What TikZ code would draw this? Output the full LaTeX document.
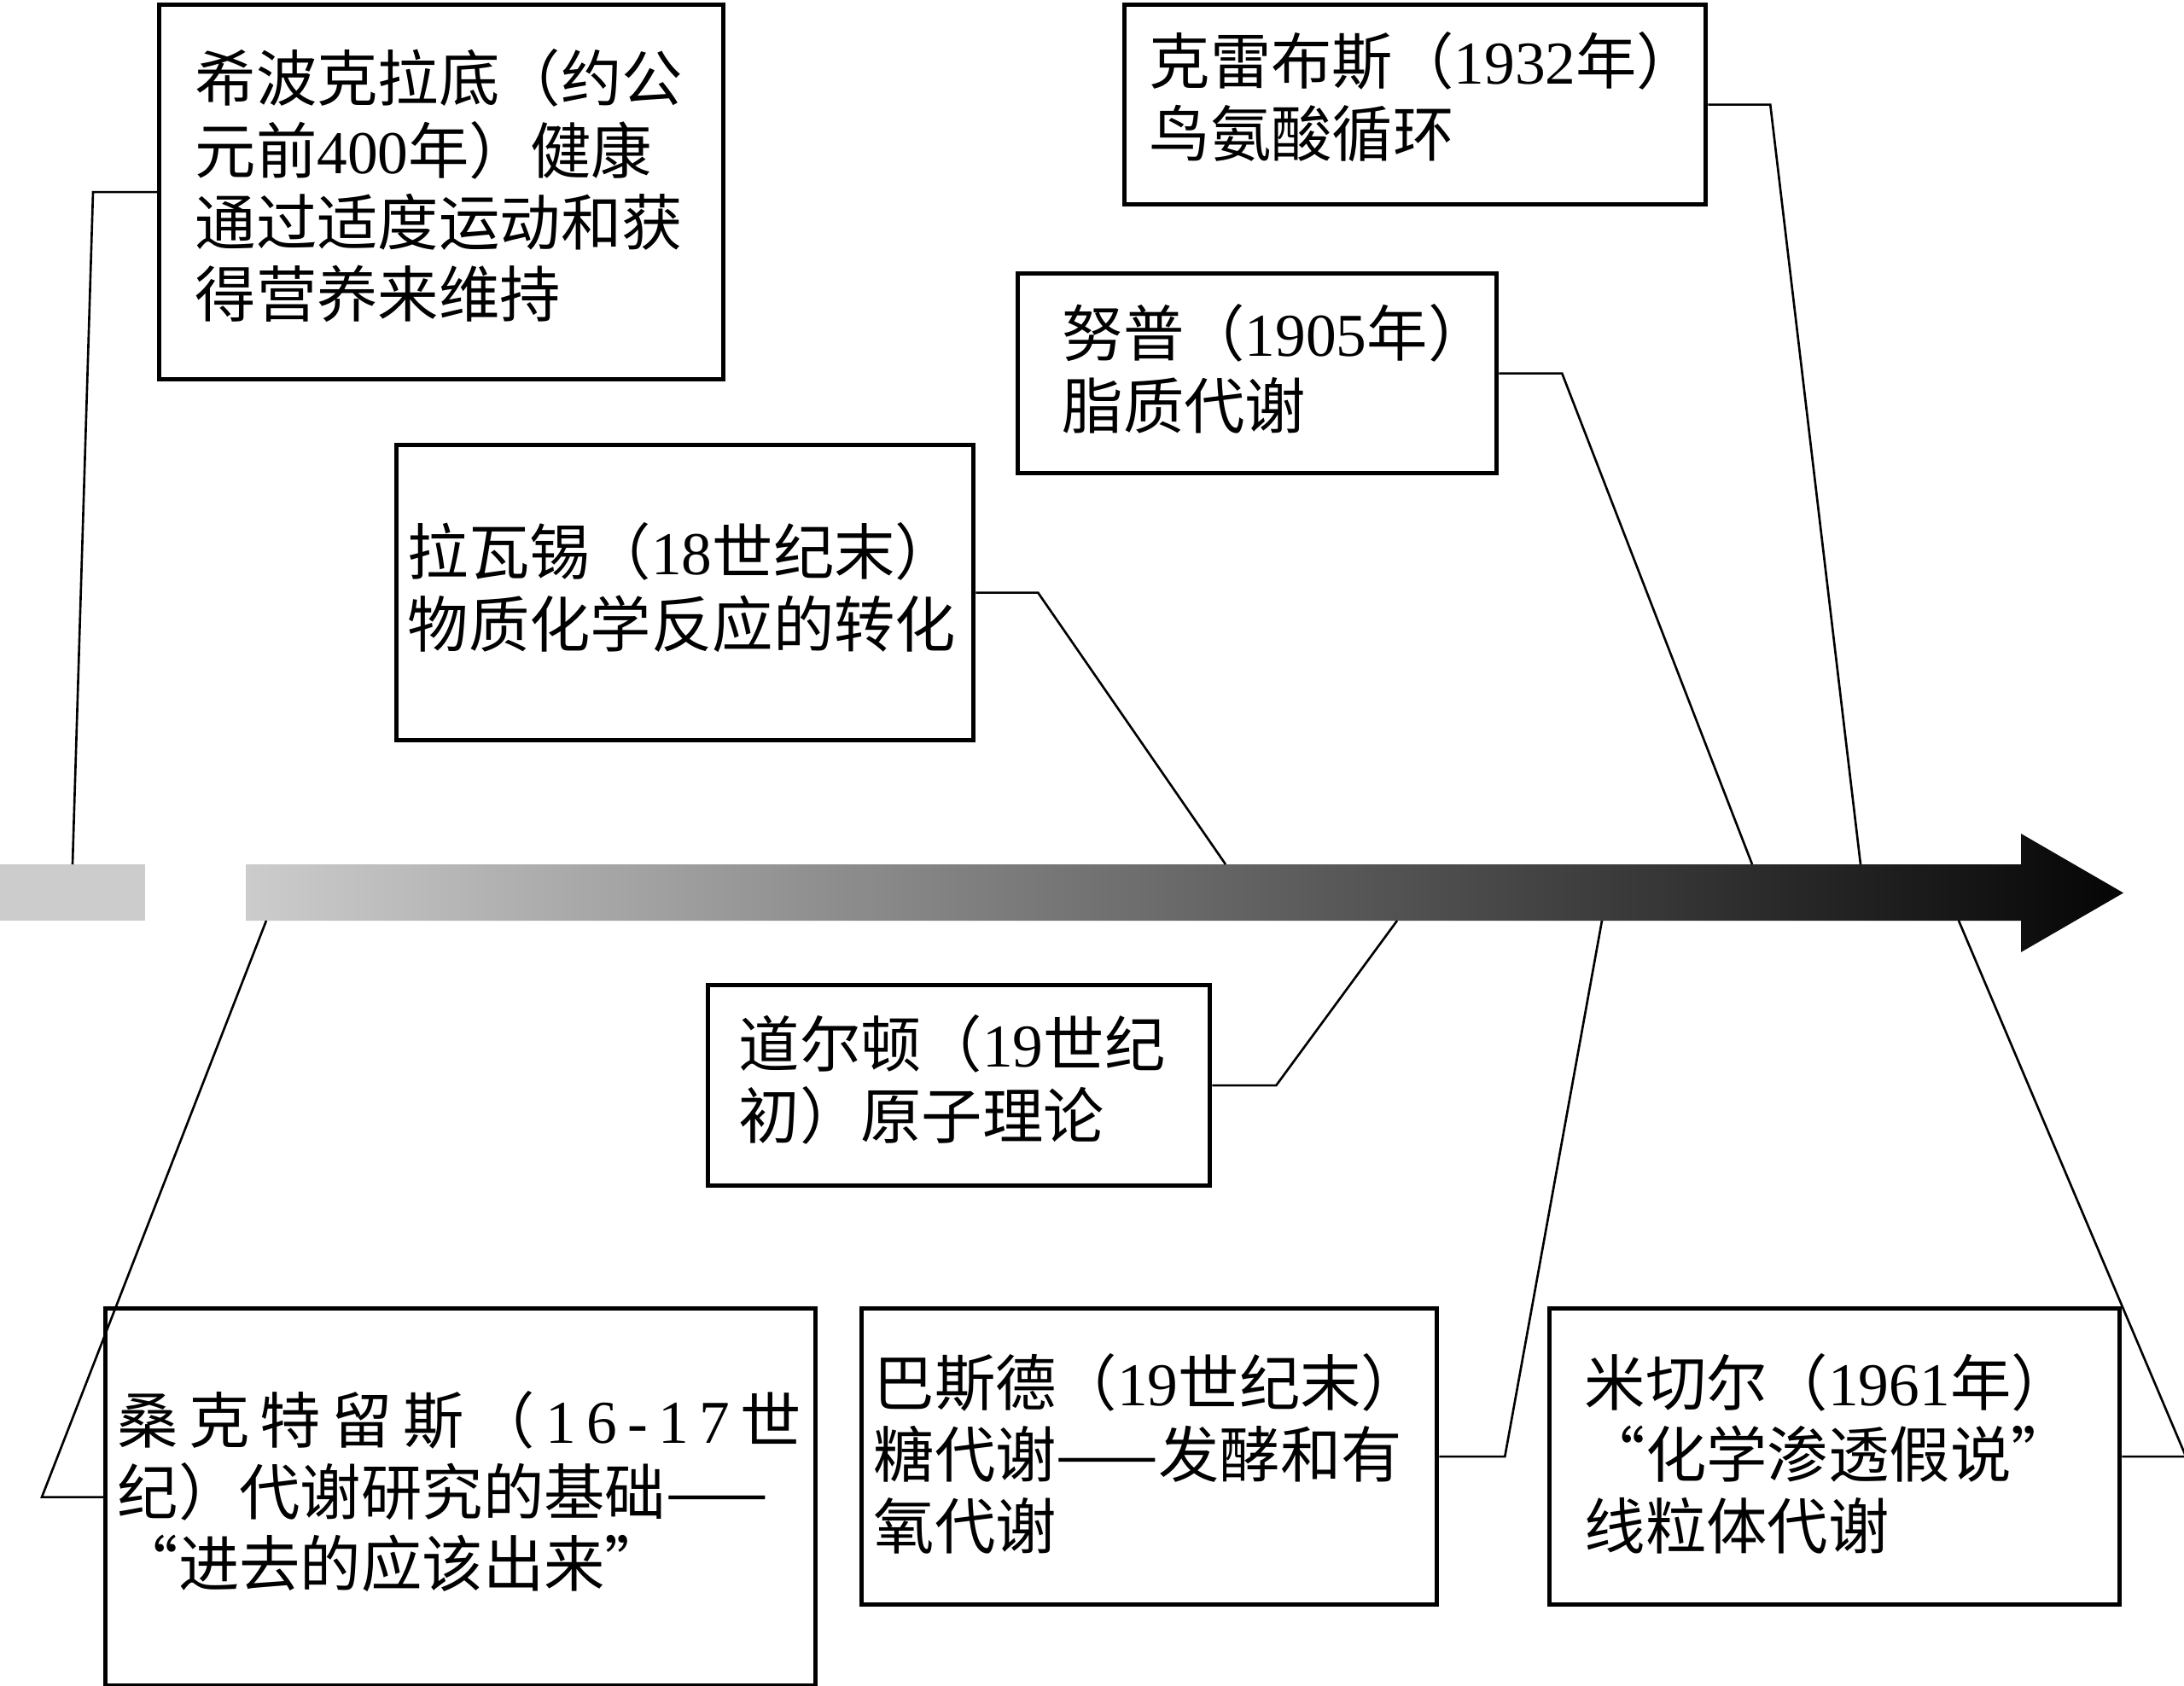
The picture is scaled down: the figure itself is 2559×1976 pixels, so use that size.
\documentclass[tikz,border=0pt]{standalone}
\usepackage{fontspec}
\setmainfont{Liberation Serif}
\newfontfamily\cjkf{Noto Sans CJK SC}
\newdimen\pxu \pxu=0.01cm
\newcommand\zh[1]{{\cjkf #1}}
\newcommand\stk[1]{\vtop{\baselineskip=23.9pt\lineskiplimit=-50pt\lineskip=0pt\halign{##\hfil\cr#1\crcr}}}
\definecolor{arrowlight}{HTML}{CCCCCC}
\definecolor{arrowdark}{HTML}{050505}
\begin{document}
\begin{tikzpicture}[x=0.01cm,y=-0.01cm,
  box/.style={draw, line width=1.5pt, fill=white, inner sep=0pt, anchor=north west, rectangle},
  txt/.style={inner sep=0pt, anchor=base west, font=\fontsize{20.3pt}{23.9pt}\selectfont},
  conn/.style={line width=0.75pt, line join=miter}]
\useasboundingbox (0,0) rectangle (2559,1976);

% timeline arrow
\fill[arrowlight] (0,1013) rectangle (170,1079);
\shade[left color=arrowlight, right color=arrowdark]
  (288,1013) -- (2368,1013) -- (2368,977) -- (2488,1046.5) -- (2368,1116) -- (2368,1079) -- (288,1079) -- cycle;

% points on the arrow
\coordinate (pA) at (85,1013);
\coordinate (pB) at (1436,1013);
\coordinate (pC) at (2053,1013);
\coordinate (pD) at (2180,1013);
\coordinate (pE) at (1637,1079);
\coordinate (pF) at (312,1079);
\coordinate (pG) at (1877,1079);
\coordinate (pH) at (2295,1079);

% boxes
\node[box, minimum width=661\pxu, minimum height=439\pxu] (A) at (184,3) {};
\node[box, minimum width=676\pxu, minimum height=346\pxu] (B) at (462,519) {};
\node[box, minimum width=561\pxu, minimum height=234\pxu] (C) at (1190,318) {};
\node[box, minimum width=681\pxu, minimum height=234\pxu] (D) at (1315,3) {};
\node[box, minimum width=588\pxu, minimum height=235\pxu] (E) at (827,1152) {};
\node[box, minimum width=832\pxu, minimum height=442\pxu] (F) at (121,1531) {};
\node[box, minimum width=674\pxu, minimum height=347\pxu] (G) at (1007,1531) {};
\node[box, minimum width=668\pxu, minimum height=347\pxu] (H) at (1813,1531) {};

% texts
\node[txt] (tA) at (228,119) {\stk{\zh{希波克拉底（约公}\cr \zh{元前}400\zh{年）健康}\cr \zh{通过适度运动和获}\cr \zh{得营养来维持}}};
\node[txt] (tB) at (477,674) {\stk{\zh{拉瓦锡（}18\zh{世纪末）}\cr \zh{物质化学反应的转化}}};
\node[txt] (tC) at (1244,418) {\stk{\zh{努普（}1905\zh{年）}\cr \zh{脂质代谢}}};
\node[txt] (tD) at (1346,99) {\stk{\zh{克雷布斯（}1932\zh{年）}\cr \zh{鸟氨酸循环}}};
\node[txt] (tE) at (865,1250) {\stk{\zh{道尔顿（}19\zh{世纪}\cr \zh{初）原子理论}}};
\node[txt] (tF) at (137,1691) {\stk{\hbox to 801\pxu{\zh{桑}\hfil\zh{克}\hfil\zh{特}\hfil\zh{留}\hfil\zh{斯}\hfil\zh{（}\hfil 1\hfil 6\hfil -\hfil 1\hfil 7\hfil\zh{世}}\cr \zh{纪）代谢研究的基础——}\cr \zh{“进去的应该出来”}}};
\node[txt] (tG) at (1023,1647) {\stk{\zh{巴斯德（}19\zh{世纪末）}\cr \zh{糖代谢——发酵和有}\cr \zh{氧代谢}}};
\node[txt] (tH) at (1856,1647) {\stk{\zh{米切尔（}1961\zh{年）}\cr \zh{“化学渗透假说”}\cr \zh{线粒体代谢}}};

% connectors
\draw[conn] (A.west) -- ++(-75,0) -- (pA);
\draw[conn] (B.east) -- ++(73,0) -- (pB);
\draw[conn] (C.east) -- ++(74,0) -- (pC);
\draw[conn] (D.east) -- ++(73,0) -- (pD);
\draw[conn] (E.east) -- ++(75,0) -- (pE);
\draw[conn] (F.west) -- ++(-72,0) -- (pF);
\draw[conn] (G.east) -- ++(77,0) -- (pG);
\draw[conn] (H.east) -- ++(75,0) -- (pH);
\end{tikzpicture}
\end{document}
